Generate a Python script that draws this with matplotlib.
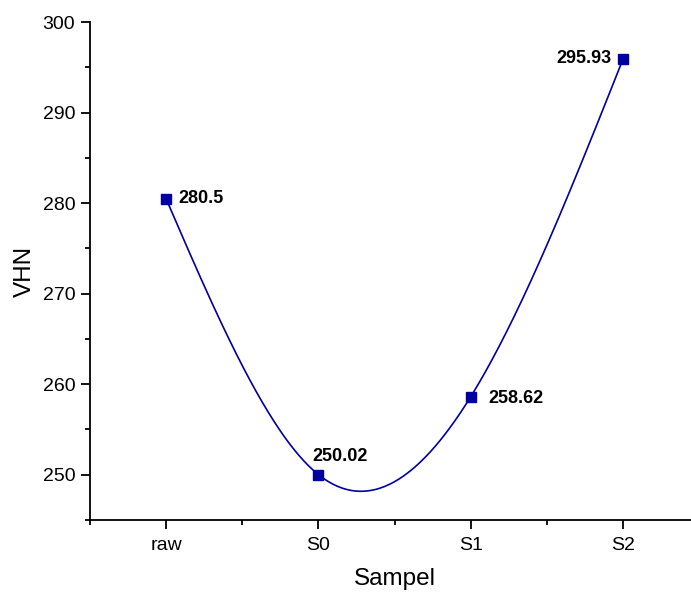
import numpy as np
import matplotlib.pyplot as plt
from matplotlib.ticker import MultipleLocator

samples = ["raw", "S0", "S1", "S2"]
vhn = [280.5, 250.02, 258.62, 295.93]
labels = ["280.5", "250.02", "258.62", "295.93"]


def natural_spline(x, y, n=300):
    # natural cubic spline, like origin's "spline" connect
    x = np.asarray(x, float)
    y = np.asarray(y, float)
    k = len(x)
    h = np.diff(x)
    A = np.zeros((k, k))
    b = np.zeros(k)
    A[0, 0] = A[-1, -1] = 1
    for i in range(1, k - 1):
        A[i, i - 1] = h[i - 1]
        A[i, i] = 2 * (h[i - 1] + h[i])
        A[i, i + 1] = h[i]
        b[i] = 6 * ((y[i + 1] - y[i]) / h[i] - (y[i] - y[i - 1]) / h[i - 1])
    M = np.linalg.solve(A, b)
    xs = np.linspace(x[0], x[-1], n)
    idx = np.clip(np.searchsorted(x, xs) - 1, 0, k - 2)
    x0, x1 = x[idx], x[idx + 1]
    hh = x1 - x0
    t0, t1 = x1 - xs, xs - x0
    ys = (M[idx] * t0**3 + M[idx + 1] * t1**3) / (6 * hh) \
        + (y[idx] / hh - M[idx] * hh / 6) * t0 \
        + (y[idx + 1] / hh - M[idx + 1] * hh / 6) * t1
    return xs, ys


plt.rcParams['font.family'] = ['Liberation Sans', 'DejaVu Sans']
color = "#0000a0"

fig = plt.figure(figsize=(6.91, 5.95), dpi=100)
ax = fig.add_axes([0.130, 0.126, 0.882, 0.837])

pos = np.arange(len(samples))
xs, ys = natural_spline(pos, vhn)
ax.plot(xs, ys, color=color, lw=1.2)
ax.plot(pos, vhn, "s", color=color, ms=7)

offsets = [(9, 0, "left", "center"), (-4, 7, "left", "bottom"),
           (13, -1, "left", "center"), (-8, 0, "right", "center")]
for p, v, lab, (dx, dy, ha, va) in zip(pos, vhn, labels, offsets):
    ax.annotate(lab, (p, v), xytext=(dx, dy), textcoords="offset points",
                ha=ha, va=va, fontsize=13, fontweight="bold")

ax.set_xlim(-0.5, 3.5)
ax.set_ylim(245, 300)
ax.set_xticks(pos)
ax.set_xticklabels(samples)
ax.xaxis.set_minor_locator(MultipleLocator(0.5))
ax.yaxis.set_major_locator(MultipleLocator(10))
ax.yaxis.set_minor_locator(MultipleLocator(5))
ax.spines["top"].set_visible(False)
ax.spines["right"].set_visible(False)
for s in ["left", "bottom"]:
    ax.spines[s].set_linewidth(1.3)
ax.tick_params(which="major", length=6.5, width=1.3, labelsize=14, direction="out")
ax.tick_params(which="minor", length=3.5, width=1.3, direction="out")
ax.tick_params(axis="x", which="major", pad=5.5)
ax.tick_params(axis="y", which="major", pad=4)
ax.set_xlabel("Sampel", fontsize=17.5, labelpad=10)
ax.set_ylabel("VHN", fontsize=17.5, labelpad=5)

fig.savefig("out.png", dpi=100)
